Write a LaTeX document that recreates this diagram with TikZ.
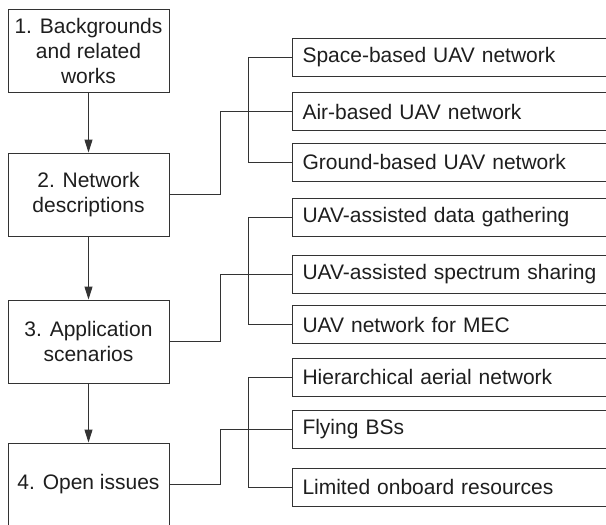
\documentclass[tikz,border=0pt]{standalone}
\usepackage{fontspec}
\setmainfont{Liberation Sans}
\usetikzlibrary{arrows.meta}
\definecolor{ink}{HTML}{1E1E1E}
\definecolor{wire}{HTML}{333333}
\begin{document}
\begin{tikzpicture}[x=1pt,y=-1pt,
  font=\fontsize{21}{25}\selectfont, text=ink,
  link/.style={draw=wire, line width=1pt},
  section/.style={rectangle, draw=wire, line width=1pt, minimum width=161pt,
    minimum height=83pt, align=center, inner sep=2pt},
  topic/.style={rectangle, draw=wire, line width=1pt, anchor=west,
    minimum height=38pt, text width=310pt, inner xsep=10pt, align=left},
  flow/.style={link, -{Triangle[length=13pt,width=8pt]}}]
\useasboundingbox (0,0) rectangle (606,525);
\clip (0,0) rectangle (606,525);
\fill[white] (0,0) rectangle (606,525);

% main sections
\node[section] (b1) at (88.5,50.5) {1. Backgrounds\\and related\\works};
\node[section] (b2) at (88.5,194.5) {2. Network\\descriptions};
\node[section] (b3) at (88.5,341.5) {3. Application\\scenarios};
\node[section] (b4) at (88.5,484.5) {4. Open issues};

\draw[flow] (b1.south) -- (b2.north);
\draw[flow] (b2.south) -- (b3.north);
\draw[flow] (b3.south) -- (b4.north);

% sub-topics
\node[topic] (s1) at (292,57) {Space-based UAV network};
\node[topic] (s2) at (292,111.5) {Air-based UAV network};
\node[topic] (s3) at (292,162) {Ground-based UAV network};
\node[topic] (a1) at (292,217.5) {UAV-assisted data gathering};
\node[topic] (a2) at (292,274.5) {UAV-assisted spectrum sharing};
\node[topic] (a3) at (292,324.5) {UAV network for MEC};
\node[topic] (o1) at (292,377) {Hierarchical aerial network};
\node[topic] (o2) at (292,429) {Flying BSs};
\node[topic] (o3) at (292,487) {Limited onboard resources};

% tree spines
\draw[link] (s1.west) -- ++(-44,0) |- (s3.west);
\draw[link] (a1.west) -- ++(-44,0) |- (a3.west);
\draw[link] (o1.west) -- ++(-44,0) |- (o3.west);

% links from sections to their topic groups
\draw[link] (b2.east) -- ++(51,0) |- (s2.west);
\draw[link] (b3.east) -- ++(51,0) |- (a2.west);
\draw[link] (b4.east) -- ++(51,0) |- (o2.west);
\end{tikzpicture}
\end{document}
